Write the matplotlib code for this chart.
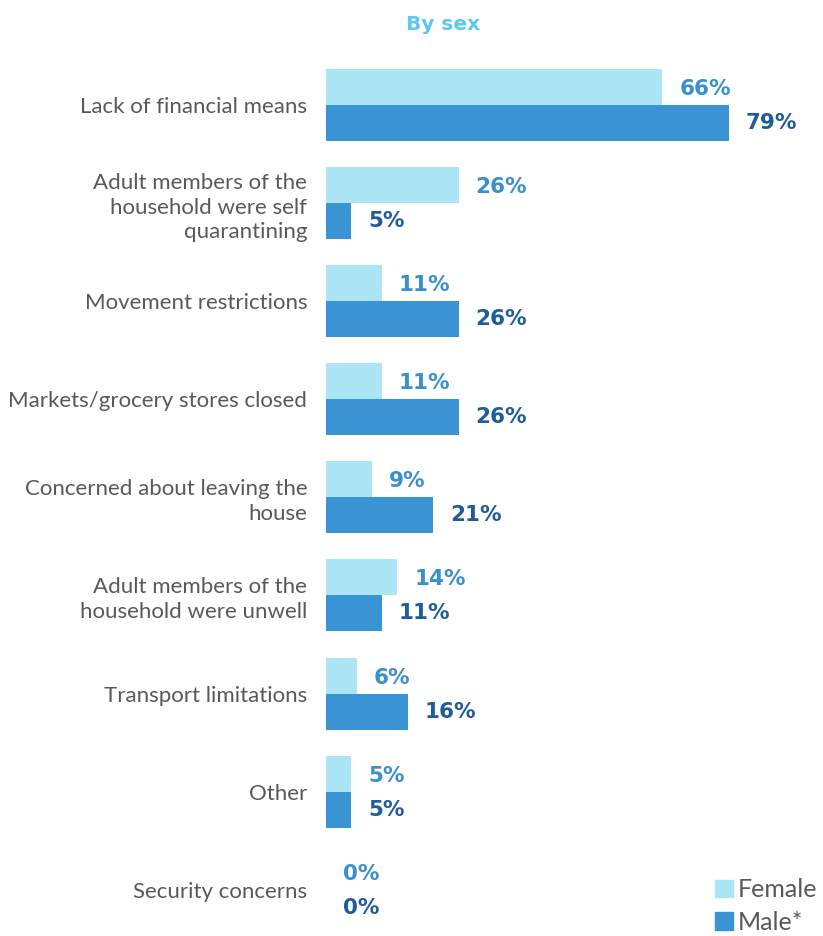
import matplotlib
matplotlib.use("Agg")
import matplotlib.pyplot as plt
from matplotlib.patches import Patch

categories = [
    "Lack of financial means",
    "Adult members of the\nhousehold were self\nquarantining",
    "Movement restrictions",
    "Markets/grocery stores closed",
    "Concerned about leaving the\nhouse",
    "Adult members of the\nhousehold were unwell",
    "Transport limitations",
    "Other",
    "Security concerns",
]
female = [66, 26, 11, 11, 9, 14, 6, 5, 0]
male = [79, 5, 26, 26, 21, 11, 16, 5, 0]
series_names = ["Female", "Male*"]

c_female = "#ACE5F6"
c_male = "#3A94D3"
c_flab = "#3A8FCF"
c_mlab = "#1E5C9C"
c_text = "#595959"
c_title = "#5CC8EE"

plt.rcParams['font.family'] = ['Lato', 'DejaVu Sans']

fig = plt.figure(figsize=(8.23, 9.36), dpi=100)
ax = fig.add_axes([326/823, 1-929/936, (800-326)/823, (929-56)/936])

h = 0.367
ys = list(range(len(categories)))
ax.barh([y - h/2 for y in ys], female, height=h, color=c_female)
ax.barh([y + h/2 for y in ys], male, height=h, color=c_male)

off = 3.3
for y, f, m in zip(ys, female, male):
    ax.text(f + off, y - h/2 + 0.02, f"{f}%", va="center", ha="left",
            fontsize=15.5, fontweight="bold", color=c_flab, family="DejaVu Sans")
    ax.text(m + off, y + h/2 + 0.0, f"{m}%", va="center", ha="left",
            fontsize=15.5, fontweight="bold", color=c_mlab, family="DejaVu Sans")

ax.set_xlim(0, 93)
ax.set_ylim(8.4, -0.5)
ax.set_yticks(ys)
ax.set_yticklabels(categories, fontsize=16, color=c_text, linespacing=1.3)
ax.tick_params(axis="y", length=0, pad=13.5)
ax.set_xticks([])
for s in ax.spines.values():
    s.set_visible(False)

fig.text(443/823, 1-24/936, "By sex", ha="center", va="center",
         fontsize=14.5, fontweight="bold", color=c_title, family="DejaVu Sans")

handles = [Patch(color=c_female), Patch(color=c_male)]
leg = fig.legend(handles, series_names, loc="lower right",
                 bbox_to_anchor=(1.0 + 9/823, -0.004 - 9/936), frameon=False,
                 fontsize=18, handlelength=0.7, handleheight=0.7,
                 handletextpad=0.2, labelspacing=0.38, borderaxespad=0.2)
for t in leg.get_texts():
    t.set_color(c_text)

fig.savefig("out.png", dpi=100)
